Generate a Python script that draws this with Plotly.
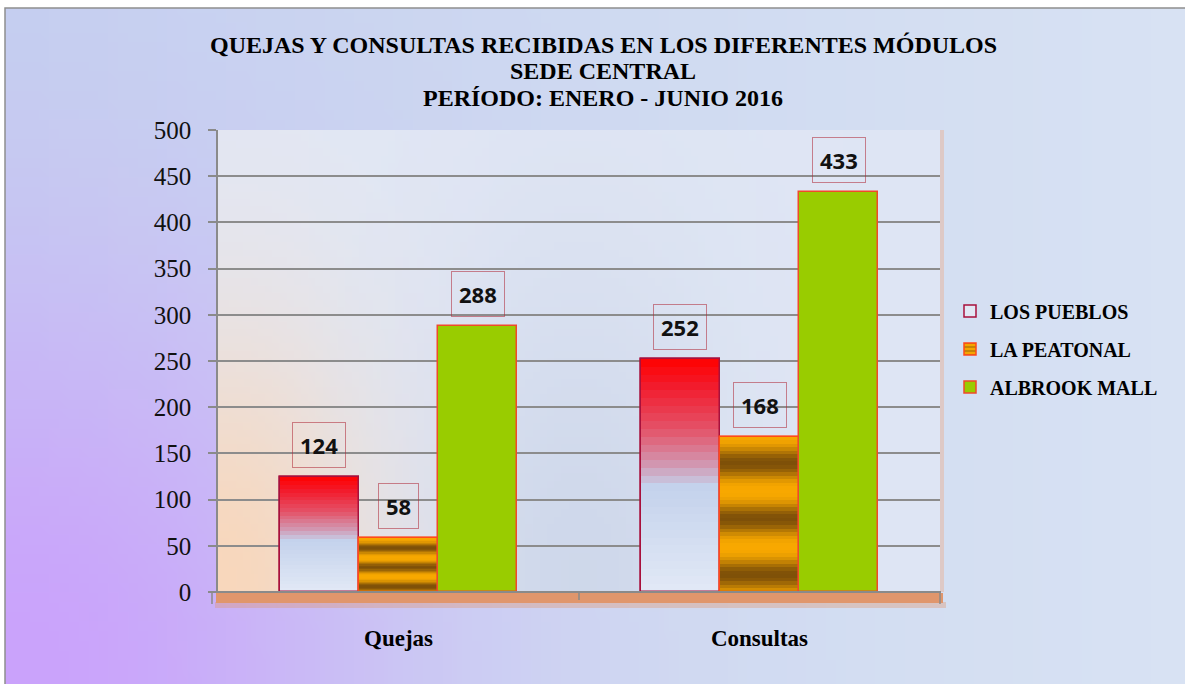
import math
import zlib
import struct
import base64
import plotly.graph_objects as go

# ---------------- data ----------------
categories = ["Quejas", "Consultas"]
series_names = ["LOS PUEBLOS", "LA PEATONAL", "ALBROOK MALL"]
los_pueblos = [124, 252]
la_peatonal = [58, 168]
albrook_mall = [288, 433]
y_ticks = [0, 50, 100, 150, 200, 250, 300, 350, 400, 450, 500]
title_lines = [
    "QUEJAS Y CONSULTAS RECIBIDAS EN LOS DIFERENTES MÓDULOS",
    "SEDE CENTRAL",
    "PERÍODO: ENERO - JUNIO 2016",
]

# ---------------- helpers ----------------
W, H = 1185, 684


def px(x):
    return x / W


def py(y):
    return 1 - y / H


def mix(c1, c2, t):
    t = max(0.0, min(1.0, t))
    return tuple(int(round(a + (b - a) * t)) for a, b in zip(c1, c2))


def rgb(c):
    return "rgb(%d,%d,%d)" % c


def stops_color(stops, t):
    for (t0, c0), (t1, c1) in zip(stops[:-1], stops[1:]):
        if t <= t1:
            return mix(c0, c1, (t - t0) / (t1 - t0) if t1 > t0 else 0)
    return stops[-1][1]


def png_uri(w, h, func):
    rows = []
    for j in range(h):
        v = j / (h - 1)
        row = bytearray(b"\x00")
        for i in range(w):
            row.extend(func(i / (w - 1), v))
        rows.append(bytes(row))
    raw = b"".join(rows)

    def chunk(t, d):
        return struct.pack(">I", len(d)) + t + d + struct.pack(">I", zlib.crc32(t + d) & 0xFFFFFFFF)

    png = (b"\x89PNG\r\n\x1a\n"
           + chunk(b"IHDR", struct.pack(">IIBBBBB", w, h, 8, 2, 0, 0, 0))
           + chunk(b"IDAT", zlib.compress(raw, 9))
           + chunk(b"IEND", b""))
    return "data:image/png;base64," + base64.b64encode(png).decode()


def paper_bg(u, v):
    base = mix((197, 209, 239), (216, 226, 243), u)
    w = math.exp(-(u / 0.32) ** 2 - ((1 - v) / 0.6) ** 2)
    return mix(base, (202, 160, 252), w * 0.95)


def plot_bg(u, v):
    base = mix((226, 231, 244), (222, 229, 244), u)
    mid = math.exp(-((u - 0.5) / 0.2) ** 2 - ((1 - v) / 0.7) ** 2)
    base = mix(base, (202, 212, 232), mid * 0.8)
    w = math.exp(-(u / 0.2) ** 2 - ((1 - v) / 0.55) ** 2)
    return mix(base, (248, 215, 188), w)


# ---------------- bar geometry ----------------
xs = list(range(len(categories)))
BAR_W = 0.219
offsets = [-0.3285, -0.1095, 0.1095]
N_LP = 30
N_PE = 44

lp_stops = [(0.0, (255, 0, 0)), (0.12, (242, 28, 45)), (0.3, (228, 82, 104)),
            (0.45, (210, 150, 176)), (0.55, (196, 210, 236)), (1.0, (226, 233, 246))]
ORANGE = (248, 168, 0)
BROWN = (126, 80, 8)


def pe_color(t):
    d = 0.5 + 0.5 * math.cos(2 * math.pi * (t - 0.17) / 0.36)
    return mix(ORANGE, BROWN, d ** 1.4)


fig = go.Figure()

# --- LOS PUEBLOS ---
fig.add_trace(go.Bar(
    x=xs, y=los_pueblos, width=[BAR_W] * 2, offset=offsets[0], name=series_names[0],
    marker=dict(color="#e2e8f5", line=dict(color="#a8103c", width=1.5)),
    legend="legend", hoverinfo="skip"))
for k in range(N_LP):
    t = 1 - (k + 0.5) / N_LP
    bases = [v * k / N_LP for v in los_pueblos]
    tops = [min(v * (k + 1.6) / N_LP, v) for v in los_pueblos]
    fig.add_trace(go.Bar(
        x=xs, y=[tp - b for tp, b in zip(tops, bases)], base=bases,
        width=[BAR_W] * 2, offset=offsets[0], showlegend=False, hoverinfo="skip",
        marker=dict(color=rgb(stops_color(lp_stops, t)), line=dict(width=0))))
fig.add_trace(go.Bar(
    x=xs, y=los_pueblos, width=[BAR_W] * 2, offset=offsets[0], showlegend=False,
    marker=dict(color="rgba(0,0,0,0)", line=dict(color="#a8103c", width=1.5)), hoverinfo="skip"))

# --- LA PEATONAL ---
fig.add_trace(go.Bar(
    x=xs, y=la_peatonal, width=[BAR_W] * 2, offset=offsets[1], name=series_names[1],
    marker=dict(color="#f5a500",
                pattern=dict(shape="-", fgcolor="#8a5a08", bgcolor="#f5a500", size=5, solidity=0.45),
                line=dict(color="#ff4a1a", width=1.5)),
    legend="legend2", hoverinfo="skip"))
for k in range(N_PE):
    t = 1 - (k + 0.5) / N_PE
    bases = [v * k / N_PE for v in la_peatonal]
    tops = [min(v * (k + 1.6) / N_PE, v) for v in la_peatonal]
    fig.add_trace(go.Bar(
        x=xs, y=[tp - b for tp, b in zip(tops, bases)], base=bases,
        width=[BAR_W] * 2, offset=offsets[1], showlegend=False, hoverinfo="skip",
        marker=dict(color=rgb(pe_color(t)), line=dict(width=0))))
fig.add_trace(go.Bar(
    x=xs, y=la_peatonal, width=[BAR_W] * 2, offset=offsets[1], showlegend=False,
    marker=dict(color="rgba(0,0,0,0)", line=dict(color="#ff4a1a", width=1.2)), hoverinfo="skip"))

# --- ALBROOK MALL ---
fig.add_trace(go.Bar(
    x=xs, y=albrook_mall, width=[BAR_W] * 2, offset=offsets[2], name=series_names[2],
    marker=dict(color="#99cc00", line=dict(color="#f04a2a", width=1.5)),
    legend="legend3", hoverinfo="skip"))

# --- value labels ---
annotations = []
for vals, off in zip([los_pueblos, la_peatonal, albrook_mall], offsets):
    for xi, v in zip(xs, vals):
        annotations.append(dict(
            x=xi + off + BAR_W / 2, y=v, xref="x", yref="y", text=str(v), showarrow=False,
            yanchor="bottom", xanchor="center", yshift=9,
            font=dict(family="Open Sans", size=22, color="#111111", weight="bold"),
            bordercolor="rgba(175,40,55,0.55)", borderwidth=1, borderpad=7))

# --- title lines ---
for txt, yy in zip(title_lines, [45, 71, 98]):
    annotations.append(dict(
        x=px(603), y=py(yy), xref="paper", yref="paper", text=txt, showarrow=False,
        xanchor="center", yanchor="middle",
        font=dict(family="Liberation Serif", size=24, color="#000000", weight="bold")))

GRAY = "#8a8a8a"
shapes = [
    # outer border
    dict(type="rect", xref="paper", yref="paper", x0=px(5), x1=px(1186), y0=py(8), y1=py(686),
         line=dict(color="#8f8f8f", width=1.5), fillcolor="rgba(0,0,0,0)", layer="above"),
    # floor
    dict(type="rect", xref="paper", yref="paper", x0=px(215), x1=px(946), y0=py(608), y1=py(602),
         line=dict(width=0), fillcolor="rgba(224,146,104,0.35)", layer="below"),
    dict(type="rect", xref="paper", yref="paper", x0=px(216), x1=px(943), y0=py(603), y1=py(593),
         line=dict(width=0), fillcolor="#e0966c", layer="below"),
    # right wall edge
    dict(type="rect", xref="paper", yref="paper", x0=px(940), x1=px(944), y0=py(592), y1=py(130),
         line=dict(width=0), fillcolor="rgba(235,175,145,0.45)", layer="below"),
    # bottom axis line
    dict(type="line", xref="paper", yref="paper", x0=px(211), x1=px(941), y0=py(592), y1=py(592),
         line=dict(color=GRAY, width=2), layer="above"),
    dict(type="line", xref="paper", yref="paper", x0=px(212), x1=px(212), y0=py(592), y1=py(604),
         line=dict(color=GRAY, width=1.5), layer="above"),
    dict(type="line", xref="paper", yref="paper", x0=px(579), x1=px(579), y0=py(592), y1=py(600),
         line=dict(color=GRAY, width=1.5), layer="above"),
    dict(type="line", xref="paper", yref="paper", x0=px(940), x1=px(940), y0=py(592), y1=py(604),
         line=dict(color=GRAY, width=1.5), layer="above"),
]

images = [
    dict(source=png_uri(120, 70, paper_bg), xref="paper", yref="paper",
         x=px(5), y=py(8), sizex=(W - 5) / W, sizey=(H - 8) / H,
         xanchor="left", yanchor="top", sizing="stretch", layer="below"),
    dict(source=png_uri(100, 64, plot_bg), xref="paper", yref="paper",
         x=px(218), y=py(130), sizex=(940 - 218) / W, sizey=(592 - 130) / H,
         xanchor="left", yanchor="top", sizing="stretch", layer="below"),
]

legend_font = dict(family="Liberation Serif", size=20, color="#000000", weight="bold")


def make_legend(yy):
    return dict(x=px(950), y=py(yy), xanchor="left", yanchor="middle", font=legend_font,
                bgcolor="rgba(0,0,0,0)", borderwidth=0, itemwidth=30)


fig.update_layout(
    width=W, height=H,
    margin=dict(l=0, r=0, t=0, b=0, autoexpand=False),
    paper_bgcolor="#ffffff",
    plot_bgcolor="rgba(0,0,0,0)",
    barmode="overlay", bargap=0, bargroupgap=0,
    showlegend=True,
    legend=make_legend(311),
    legend2=make_legend(349),
    legend3=make_legend(387),
    xaxis=dict(domain=[px(218), px(940)], range=[-0.5, 1.5], tickvals=xs, ticktext=categories,
               ticks="", showline=False, showgrid=False, zeroline=False, fixedrange=True,
               ticklabelstandoff=30, automargin=False,
               tickfont=dict(family="Liberation Serif", size=23, color="#000000", weight="bold")),
    yaxis=dict(domain=[py(592), py(130)], range=[0, 500], tickvals=y_ticks,
               ticks="outside", ticklen=8, tickcolor=GRAY, tickwidth=1.5,
               showline=True, linecolor=GRAY, linewidth=1.5,
               showgrid=True, gridcolor="#8c8c8c", gridwidth=1.5, zeroline=False,
               ticklabelstandoff=12, fixedrange=True, automargin=False,
               tickfont=dict(family="Liberation Serif", size=25, color="#111111")),
    annotations=annotations,
    shapes=shapes,
    images=images,
)

fig.write_html("out.html", config={"displayModeBar": False},
               post_script="document.body.style.margin='0';document.body.style.overflow='hidden';")
